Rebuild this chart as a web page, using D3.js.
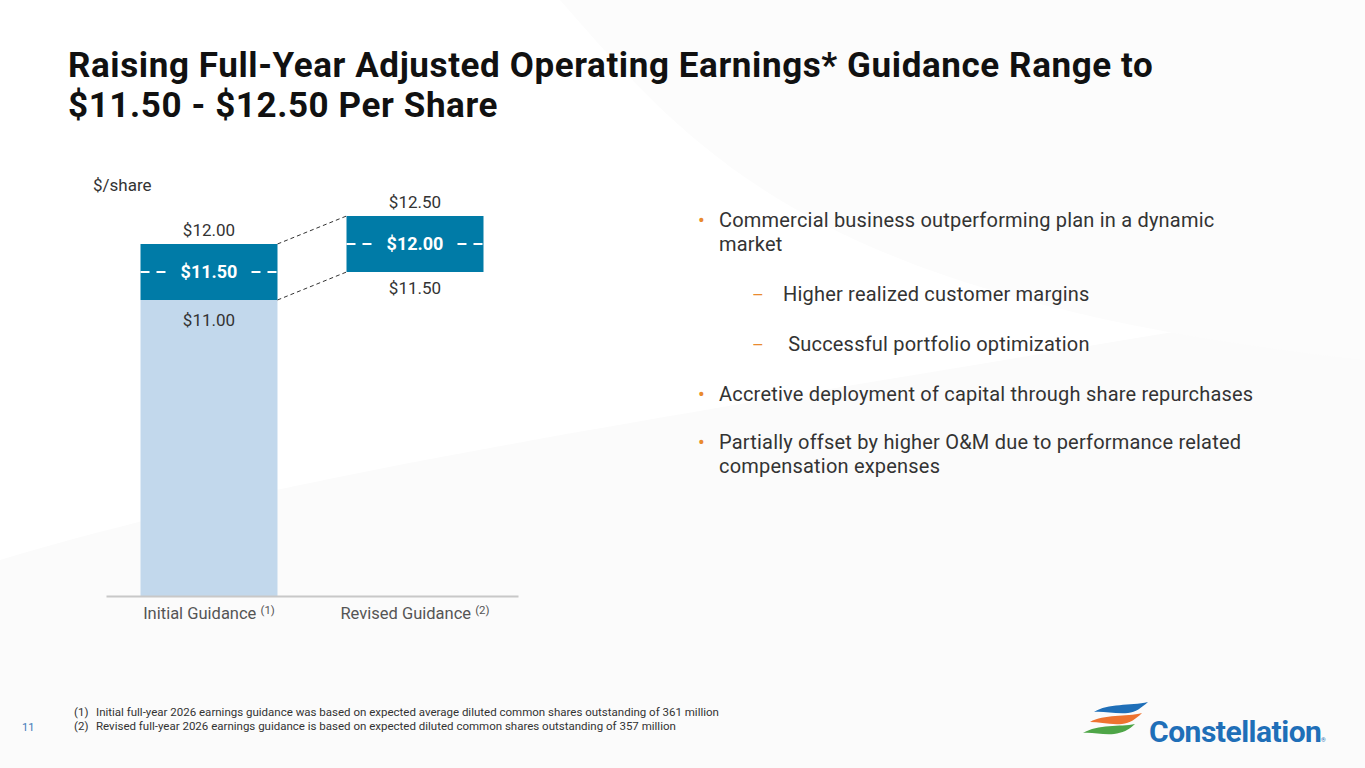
<!DOCTYPE html>
<html>
<head>
<meta charset="utf-8">
<script src="https://cdn.jsdelivr.net/npm/d3@7"></script>
<style>
  body { margin: 0; background: #fff; }
  svg { display: block; font-family: Roboto, "Noto Sans", sans-serif; }
</style>
</head>
<body>
<svg id="slide" width="1365" height="768"></svg>
<script>
// chart values
const categories = ["Initial Guidance", "Revised Guidance"];
const cat_notes = ["(1)", "(2)"];
const base_values = [11.00, null];          // light bar top
const range_low = [11.00, 11.50];
const range_high = [12.00, 12.50];
const midpoints = [11.50, 12.00];

const bullets = [
    {level: 0, lines: ["Commercial business outperforming plan in a dynamic", "market"]},
    {level: 1, lines: ["Higher realized customer margins"]},
    {level: 1, lines: [" Successful portfolio optimization"]},
    {level: 0, lines: ["Accretive deployment of capital through share repurchases"]},
    {level: 0, lines: ["Partially offset by higher O&M due to performance related", "compensation expenses"]}
];
const footnotes = [
    "Initial full-year 2026 earnings guidance was based on expected average diluted common shares outstanding of 361 million",
    "Revised full-year 2026 earnings guidance is based on expected diluted common shares outstanding of 357 million"
];

const svg = d3.select('#slide');
const dark = "#007ba7";
const light = "#c2d8ec";
const txt = "#333";

// faint background swooshes
const bg = svg.append('g');
bg.append('path')
    .attr('d', "M0,560 C300,470 650,420 1365,300 L1365,768 L0,768 Z")
    .style('fill', '#fbfbfb');
bg.append('path')
    .attr('d', "M560,0 C700,160 820,300 1365,360 L1365,0 Z")
    .style('fill', '#fcfcfc');

// title
const title = svg.append('text')
    .attr('x', 68).attr('y', 77)
    .style('font-size', '35px').style('font-weight', 700).style('fill', '#111')
    .style('letter-spacing', '0.6px');
title.append('tspan').attr('x', 68).text("Raising Full-Year Adjusted Operating Earnings* Guidance Range to");
title.append('tspan').attr('x', 68).attr('dy', 40).text("$11.50 - $12.50 Per Share");

// scales
const x = d3.scaleBand()
    .domain(categories)
    .range([106, 518])
    .paddingInner(0.335)
    .paddingOuter(0.1675);
const y = d3.scaleLinear()
    .domain([5.714, 12.5])
    .range([596, 216]);

svg.append('text')
    .attr('x', 93).attr('y', 191)
    .style('font-size', '17px').style('fill', txt)
    .text("$/share");

// base light bar
svg.selectAll('.base')
    .data(categories.filter((c, i) => base_values[i] !== null))
    .enter().append('rect')
    .attr('x', d => x(d))
    .attr('y', (d) => y(base_values[categories.indexOf(d)]))
    .attr('width', x.bandwidth())
    .attr('height', d => y(y.domain()[0]) - y(base_values[categories.indexOf(d)]))
    .style('fill', light);

// range bars
svg.selectAll('.range')
    .data(categories)
    .enter().append('rect')
    .attr('x', d => x(d))
    .attr('y', (d, i) => y(range_high[i]))
    .attr('width', x.bandwidth())
    .attr('height', (d, i) => y(range_low[i]) - y(range_high[i]))
    .style('fill', dark);

// midpoint dashed marks
categories.forEach(function(c, i) {
    const ym = y(midpoints[i]);
    const x0 = x(c), x1 = x(c) + x.bandwidth();
    [[x0, x0 + 26], [x1 - 26, x1]].forEach(function(seg) {
        svg.append('line')
            .attr('x1', seg[0]).attr('x2', seg[1])
            .attr('y1', ym).attr('y2', ym)
            .style('stroke', '#fff').style('stroke-width', 2)
            .style('stroke-dasharray', '9,7');
    });
    svg.append('text')
        .attr('x', x0 + x.bandwidth() / 2).attr('y', ym + 6)
        .attr('text-anchor', 'middle')
        .style('font-size', '18px').style('font-weight', 700).style('fill', '#fff')
        .text('$' + midpoints[i].toFixed(2));
});

// connectors between the two ranges
[[range_high[0], range_high[1]], [range_low[0], range_low[1]]].forEach(function(p) {
    svg.append('line')
        .attr('x1', x(categories[0]) + x.bandwidth()).attr('y1', y(p[0]))
        .attr('x2', x(categories[1])).attr('y2', y(p[1]))
        .style('stroke', '#333').style('stroke-width', 1)
        .style('stroke-dasharray', '4,3');
});

// value labels
const val_labels = [
    {cat: 0, v: range_high[0], dy: -8},
    {cat: 0, v: range_low[0], dy: 26},
    {cat: 1, v: range_high[1], dy: -8},
    {cat: 1, v: range_low[1], dy: 22}
];
svg.selectAll('.vlab')
    .data(val_labels)
    .enter().append('text')
    .attr('x', d => x(categories[d.cat]) + x.bandwidth() / 2)
    .attr('y', d => y(d.v) + d.dy)
    .attr('text-anchor', 'middle')
    .style('font-size', '17px').style('fill', txt)
    .text(d => '$' + d.v.toFixed(2));

// axis
const axis = svg.append('g')
    .attr('transform', 'translate(0,' + y(y.domain()[0]) + ')')
    .call(d3.axisBottom(x).tickSize(0).tickFormat(''));
axis.select('.domain').style('stroke', '#c8c8c8').style('stroke-width', 2);

categories.forEach(function(c, i) {
    const t = svg.append('text')
        .attr('x', x(c) + x.bandwidth() / 2).attr('y', 619)
        .attr('text-anchor', 'middle')
        .style('font-size', '16.5px').style('fill', '#555');
    t.append('tspan').text(c + ' ');
    t.append('tspan').attr('dy', -5).style('font-size', '11.5px').text(cat_notes[i]);
});

// bullets
let by = 227;
bullets.forEach(function(b, i) {
    if (i > 0) by += (b.level === 1 || bullets[i - 1].level === 1) ? 50 : 48;
    if (b.level === 0) {
        svg.append('text').attr('x', 698).attr('y', by)
            .style('font-size', '20px').style('fill', '#e98a2f').text('•');
    } else {
        svg.append('text').attr('x', 752).attr('y', by)
            .style('font-size', '18px').style('fill', '#e98a2f').text('–');
    }
    const tx = b.level === 0 ? 719 : 783;
    b.lines.forEach(function(l, j) {
        svg.append('text').attr('x', tx).attr('y', by + j * 24)
            .attr('xml:space', 'preserve')
            .style('white-space', 'pre')
            .style('letter-spacing', '0.2px')
            .style('font-size', '20px').style('fill', txt).text(l);
    });
    by += (b.lines.length - 1) * 24;
});

// footnotes
footnotes.forEach(function(f, i) {
    svg.append('text').attr('x', 74).attr('y', 716 + i * 14)
        .style('font-size', '11.5px').style('fill', txt).text('(' + (i + 1) + ')');
    svg.append('text').attr('x', 96).attr('y', 716 + i * 14)
        .style('font-size', '11.5px').style('fill', txt).text(f);
});
svg.append('text').attr('x', 22).attr('y', 731)
    .style('font-size', '11px').style('fill', '#3d7ab8').text('11');

// logo
const logo = svg.append('g');
logo.append('path').attr('d', "M1094,712 C1108,703 1130,706 1148,702 C1141,708 1136,712 1128,713 C1115,714 1103,711 1094,712 Z").style('fill', '#1f6fb8');
logo.append('path').attr('d', "M1090,722 C1104,714 1126,717 1142,713 C1136,719 1130,723 1122,724 C1110,725 1099,722 1090,722 Z").style('fill', '#ee7330');
logo.append('path').attr('d', "M1083,733 C1098,724 1120,727 1135,724 C1129,730 1122,733 1114,734 C1102,735 1092,732 1083,733 Z").style('fill', '#4ea547');
logo.append('text').attr('x', 1149).attr('y', 742)
    .style('font-size', '30px').style('font-weight', 700).style('fill', '#1f6fb8')
    .style('letter-spacing', '-0.5px')
    .text('Constellation');
logo.append('text').attr('x', 1321).attr('y', 742)
    .style('font-size', '6px').style('fill', '#1f6fb8').text('®');
</script>
</body>
</html>
